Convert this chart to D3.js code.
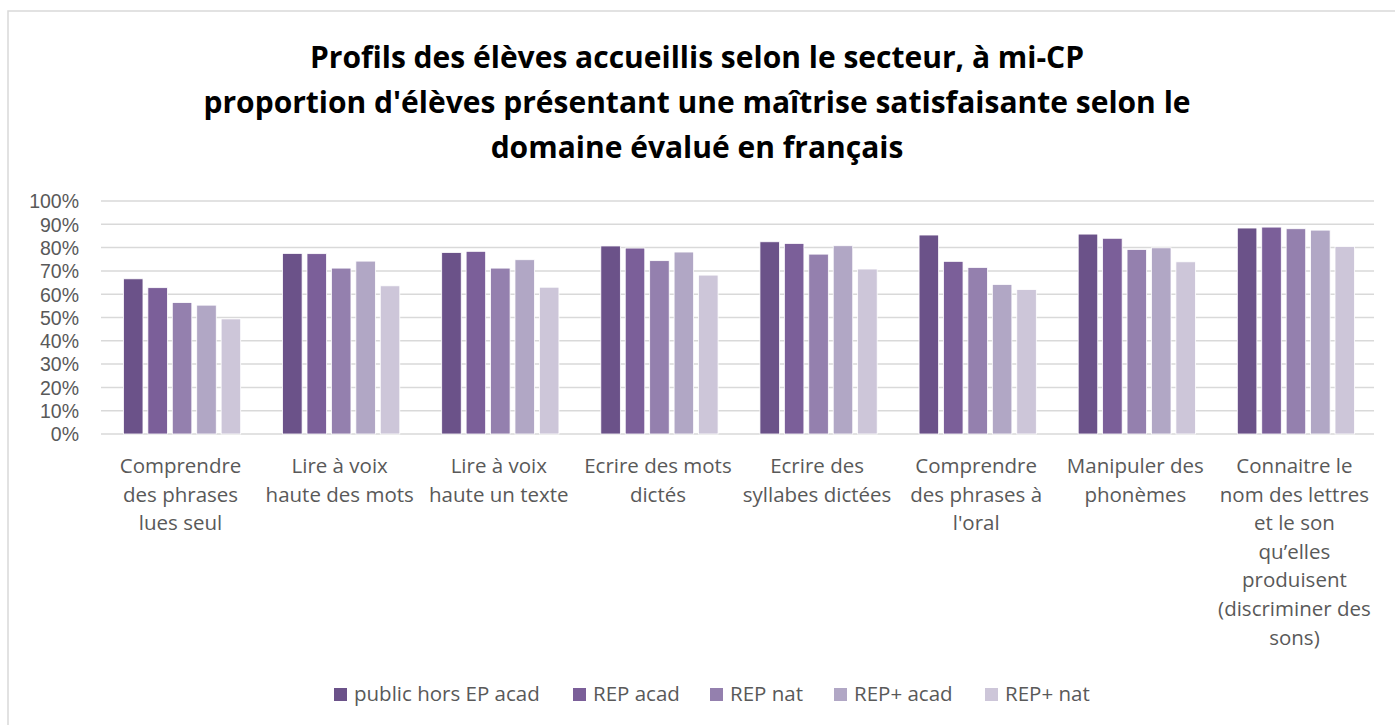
<!DOCTYPE html>
<html><head><meta charset="utf-8">
<script src="https://cdn.jsdelivr.net/npm/d3@7"></script>
<style>body{margin:0;background:#fff;}svg{display:block;font-family:"Open Sans",sans-serif;}</style>
</head><body>
<svg id="chart" width="1395" height="725"></svg>
<script>
const categories = [
  ["Comprendre","des phrases","lues seul"],
  ["Lire à voix","haute des mots"],
  ["Lire à voix","haute un texte"],
  ["Ecrire des mots","dictés"],
  ["Ecrire des","syllabes dictées"],
  ["Comprendre","des phrases à","l'oral"],
  ["Manipuler des","phonèmes"],
  ["Connaitre le","nom des lettres","et le son","qu’elles","produisent","(discriminer des","sons)"]
];
const seriesNames = ["public hors EP acad","REP acad","REP nat","REP+ acad","REP+ nat"];
const publicHorsEP = [66.6, 77.5, 77.9, 80.7, 82.5, 85.4, 85.8, 88.4];
const repAcad      = [62.8, 77.4, 78.4, 79.8, 81.8, 74.1, 84.0, 88.8];
const repNat       = [56.4, 71.2, 71.2, 74.4, 77.2, 71.5, 79.2, 88.1];
const repPlusAcad  = [55.3, 74.2, 74.8, 78.1, 80.8, 64.2, 79.9, 87.5];
const repPlusNat   = [49.4, 63.6, 63.0, 68.2, 70.8, 62.0, 73.9, 80.5];
const seriesValues = [publicHorsEP, repAcad, repNat, repPlusAcad, repPlusNat];
const yTicks = [0,10,20,30,40,50,60,70,80,90,100];
const titleLines = ["Profils des élèves accueillis selon le secteur, à mi-CP",
  "proportion d'élèves présentant une maîtrise satisfaisante selon le",
  "domaine évalué en français"];
const colors = ["#6b5289","#7b5f99","#9480ae","#b1a7c5","#cdc6d9"];

const svg = d3.select("#chart");
svg.append("rect").attr("x",8).attr("y",11).attr("width",1400).attr("height",730)
  .attr("fill","none").attr("stroke","#d9d9d9").attr("stroke-width",1.5);

svg.append("g").selectAll("text").data(titleLines).join("text")
  .attr("x",697).attr("y",(d,i)=>68+i*45).attr("text-anchor","middle")
  .attr("font-size",30).attr("font-weight","bold").attr("fill","#000").text(d=>d);

const x0 = d3.scaleBand().domain(d3.range(categories.length)).range([101,1374]).padding(0);
const x1 = d3.scaleBand().domain(d3.range(seriesNames.length))
  .range([20, x0.bandwidth()-17]).paddingInner(0.2).paddingOuter(0.1);
const y = d3.scaleLinear().domain([0,100]).range([434,201]);

svg.append("g").selectAll("line").data(yTicks).join("line")
  .attr("x1",101).attr("x2",1374).attr("y1",d=>y(d)).attr("y2",d=>y(d))
  .attr("stroke","#d9d9d9").attr("stroke-width",1.5);

const yAxis = d3.axisLeft(y).tickValues(yTicks).tickFormat(d=>d+"%").tickSize(0).tickPadding(0);
const yg = svg.append("g").attr("transform","translate(79,0)").call(yAxis);
yg.select(".domain").remove();
yg.selectAll("text").attr("font-size",19.5).attr("fill","#595959")
  .attr("font-family","'Liberation Sans',Arial,sans-serif").attr("dy","0.35em");

const groups = svg.append("g").selectAll("g").data(categories).join("g")
  .attr("transform",(d,i)=>`translate(${x0(i)},0)`);
groups.selectAll("rect").data((d,i)=>seriesValues.map((s,j)=>({j,v:s[i]}))).join("rect")
  .attr("x",d=>x1(d.j)).attr("width",x1.bandwidth())
  .attr("y",d=>y(d.v)).attr("height",d=>y(0)-y(d.v))
  .attr("fill",d=>colors[d.j]).attr("stroke","#ffffff").attr("stroke-width",0.8);

const xg = svg.append("g");
categories.forEach((lines,i)=>{
  const cx = x0(i)+x0.bandwidth()/2;
  xg.append("text").attr("text-anchor","middle").attr("font-size",20.5).attr("fill","#595959")
    .selectAll("tspan").data(lines).join("tspan")
    .attr("x",cx).attr("y",(d,k)=>473+k*28.6).text(d=>d);
});

const legendX = [334,573,710,834,985];
const lg = svg.append("g").selectAll("g").data(seriesNames).join("g")
  .attr("transform",(d,i)=>`translate(${legendX[i]},0)`);
lg.append("rect").attr("x",0).attr("y",688).attr("width",13).attr("height",13).attr("fill",(d,i)=>colors[i]);
lg.append("text").attr("x",20).attr("y",701).attr("font-size",20.5).attr("fill","#595959").text(d=>d);
</script>
</body></html>
